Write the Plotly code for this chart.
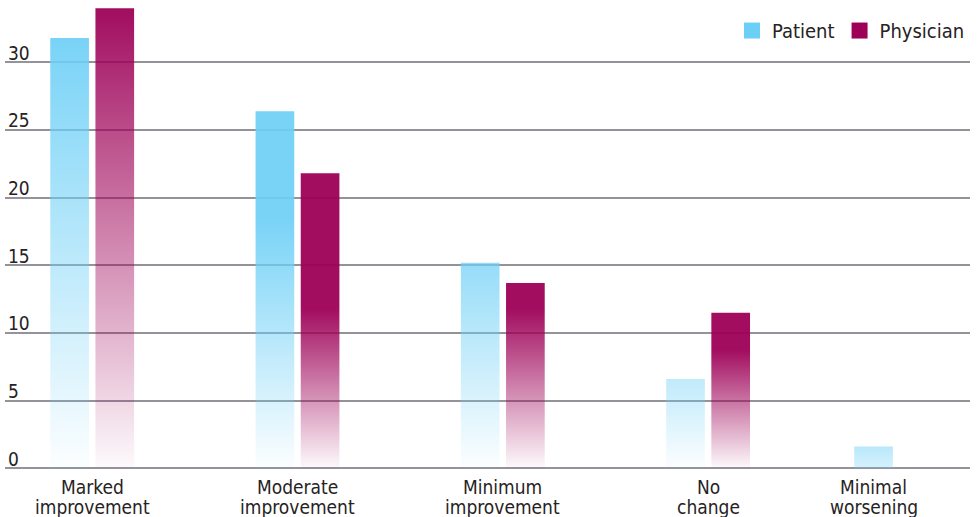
import plotly.graph_objects as go

# ---------------- data ----------------
categories = ["Marked<br>improvement", "Moderate<br>improvement", "Minimum<br>improvement",
              "No<br>change", "Minimal<br>worsening"]
patient = [31.8, 26.4, 15.2, 6.6, 1.6]
physician = [34.0, 21.8, 13.7, 11.5, 0.0]
y_ticks = [0, 5, 10, 15, 20, 25, 30]

# ---------------- layout / style constants ----------------
group_pos = [0, 1, 2, 3, 3.916]       # category centres (x units)
bar_half = 0.0942                     # half bar width
bar_off = 0.110                       # offset of each bar from group centre
PAT_RGB = (109, 207, 246)
PHY_RGB = (157, 0, 87)
# gradient style per bar: (alpha at base, alpha at top, fraction of height where full alpha is reached)
pat_grad = [(0.02, 0.92, 1.0), (0.02, 0.92, 0.70), (0.02, 0.72, 1.0), (0.02, 0.43, 1.0), (0.28, 0.48, 1.0)]
phy_grad = [(0.02, 0.95, 1.0), (0.02, 0.95, 0.54), (0.02, 0.95, 0.86), (0.02, 0.95, 0.76), (0.02, 0.95, 1.0)]
FONT = "DejaVu Sans Condensed, DejaVu Sans, sans-serif"
TXT = "#262223"
GRID = "#939399"


def mkfont(size):
    d = dict(family=FONT, size=size, color=TXT)
    try:
        go.layout.annotation.Font(stretch="condensed")
        d["stretch"] = "condensed"
    except Exception:
        pass
    return d


def rgba(rgb, a):
    return "rgba(%d,%d,%d,%.3f)" % (rgb[0], rgb[1], rgb[2], a)


fig = go.Figure()


def add_bar(xc, val, rgb, grad, name):
    if val <= 0:
        return
    a0, a1, f = grad
    xs = [xc - bar_half, xc + bar_half, xc + bar_half, xc - bar_half, xc - bar_half]
    ys = [0, 0, val, val, 0]
    scale = [[0, rgba(rgb, a0)], [f, rgba(rgb, a1)], [1, rgba(rgb, a1)]] if f < 1 else \
        [[0, rgba(rgb, a0)], [1, rgba(rgb, a1)]]
    fig.add_trace(go.Scatter(
        x=xs, y=ys, mode="lines", fill="toself", line=dict(width=0, color=rgba(rgb, 0)),
        fillgradient=dict(type="vertical", colorscale=scale, start=0, stop=val),
        showlegend=False, hoverinfo="skip", name=name))


for i, c in enumerate(group_pos):
    add_bar(c - bar_off, patient[i], PAT_RGB, pat_grad[i], "Patient")
    add_bar(c + bar_off, physician[i], PHY_RGB, phy_grad[i], "Physician")

# legend entries
for name, rgb in [("Patient", PAT_RGB), ("Physician", PHY_RGB)]:
    fig.add_trace(go.Scatter(x=[None], y=[None], mode="markers", name=name,
                             marker=dict(symbol="square", size=17, color=rgba(rgb, 1))))

# category labels (two lines each, tight line spacing)
for i, c in enumerate(group_pos):
    xs = []
    if patient[i] > 0:
        xs.append(c - bar_off)
    if physician[i] > 0:
        xs.append(c + bar_off)
    xl = sum(xs) / len(xs)
    for j, line in enumerate(categories[i].split("<br>")):
        fig.add_annotation(x=xl, y=0, xref="x", yref="y", text=line, showarrow=False,
                           yanchor="middle", yshift=-19 - 20 * j,
                           font=mkfont(19))

fig.update_layout(
    width=978, height=517,
    margin=dict(l=5, r=8, t=4, b=44),
    plot_bgcolor="white", paper_bgcolor="white",
    font=dict(family=FONT, color=TXT),
    showlegend=True,
    legend=dict(orientation="h", x=1, xanchor="right", y=0.985, yanchor="top",
                font=mkfont(20), itemsizing="trace",
                bgcolor="rgba(0,0,0,0)", traceorder="normal"),
    xaxis=dict(range=[-0.4247, 4.2757], showgrid=False, zeroline=False,
               showticklabels=False, fixedrange=True),
    yaxis=dict(range=[-0.35, 34.32], tickvals=y_ticks, ticktext=[str(v) for v in y_ticks],
               showgrid=True, gridcolor=GRID, gridwidth=2, zeroline=True,
               zerolinecolor=GRID, zerolinewidth=2,
               ticklabelposition="inside top", ticklabelstandoff=0, ticklabelshift=4,
               tickfont=mkfont(19), layer="above traces", fixedrange=True),
)

fig.write_html("out.html", config={"displayModeBar": False},
               post_script="document.body.style.margin='0';document.body.style.overflow='hidden';")
